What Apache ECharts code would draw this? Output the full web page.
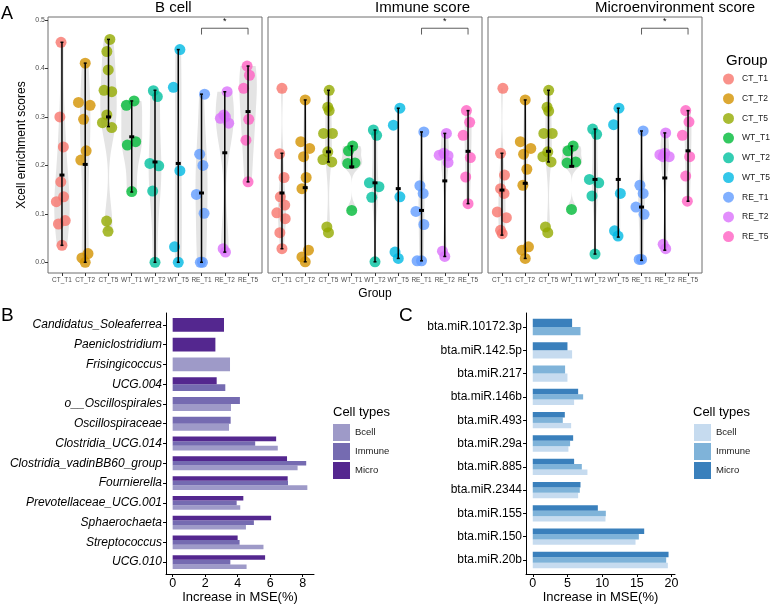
<!DOCTYPE html>
<html>
<head>
<meta charset="utf-8">
<script src="https://cdn.jsdelivr.net/npm/echarts@6/dist/echarts.min.js"></script>
<style>
  html, body { margin: 0; padding: 0; background: #fff; }
  #chart { width: 778px; height: 606px; }
</style>
</head>
<body>
<div id="chart"></div>
<script>
// ---------- panel A data ----------
const groups = ['CT_T1', 'CT_T2', 'CT_T5', 'WT_T1', 'WT_T2', 'WT_T5', 'RE_T1', 'RE_T2', 'RE_T5'];
const groupColors = ['#F8766D', '#D39200', '#93AA00', '#00BA38', '#00C19F', '#00B9E3', '#619CFF', '#DB72FB', '#FF61C3'];
const panelTitles = ['B cell', 'Immune score', 'Microenvironment score'];
const yTicksA = [0, 0.1, 0.2, 0.3, 0.4, 0.5];

// points per group: [horizontal jitter (category units), score]
const bcellPoints = [
  [[-0.04, .454], [-0.09, .300], [0.06, .238], [-0.05, .166], [0.07, .135], [-0.24, .125], [0.14, .086], [-0.15, .079], [0, .035]],
  [[0, .411], [-0.29, .330], [0.21, .324], [-0.07, .295], [0.04, .230], [-0.19, .211], [0.12, .018], [-0.14, .009], [0, .0]],
  [[0.06, .460], [-0.07, .435], [-0.01, .397], [-0.19, .355], [0.14, .352], [-0.07, .304], [-0.26, .288], [0.14, .278], [-0.08, .085], [-0.02, .064]],
  [[-0.23, .324], [0.1, .333], [-0.19, .242], [0.17, .249], [0, .146]],
  [[-0.07, .354], [0.1, .342], [-0.22, .204], [0.16, .199], [-0.1, .147], [0, .0]],
  [[0.07, .439], [-0.21, .361], [0.07, .189], [-0.16, .032], [0, .0]],
  [[0.13, .347], [-0.08, .223], [0.06, .200], [-0.22, .140], [0.11, .101], [-0.05, .0], [0.04, .0]],
  [[0.1, .352], [-0.19, .297], [-0.04, .304], [0.17, .287], [0.03, .300], [-0.07, .028], [0.03, .021]],
  [[-0.04, .405], [0.06, .386], [-0.19, .359], [0.03, .295], [-0.09, .252], [0, .166]]
];
const bcellMean = [.180, .202, .300, .259, .207, .204, .143, .226, .311];
const bcellLow = [.035, .000, .280, .145, .000, .000, .000, .021, .166];
const bcellHigh = [.454, .411, .460, .333, .355, .439, .347, .352, .405];

const immunePoints = [
  [[0, .359], [-0.1, .224], [0.09, .175], [-0.07, .135], [0.12, .118], [-0.22, .102], [0.14, .090], [-0.09, .061], [0, .028]],
  [[0, .335], [-0.19, .249], [0.19, .235], [-0.07, .218], [0.04, .175], [-0.14, .152], [0.14, .025], [-0.14, .011], [0, .001]],
  [[0.03, .355], [-0.03, .320], [0.03, .313], [-0.21, .266], [0.17, .266], [-0.03, .228], [-0.24, .212], [0.14, .207], [-0.07, .073], [0, .061]],
  [[0.04, .240], [-0.14, .230], [0.14, .205], [-0.17, .204], [0, .107]],
  [[-0.07, .273], [0.07, .262], [-0.24, .164], [0.17, .156], [-0.14, .134], [0, .001]],
  [[0.07, .318], [-0.21, .283], [0.07, .135], [-0.14, .021], [0, .008]],
  [[0.1, .269], [-0.07, .158], [0.07, .142], [-0.24, .105], [0.1, .078], [-0.19, .003], [0, .003]],
  [[0.07, .266], [-0.24, .221], [-0.04, .225], [0.14, .220], [0.14, .206], [-0.1, .023], [0, .012]],
  [[-0.07, .313], [0.07, .289], [-0.21, .262], [0.1, .216], [-0.1, .176], [0, .121]]
];
const immuneMean = [.143, .154, .228, .197, .164, .152, .107, .168, .229];
const immuneLow = [.028, .001, .207, .195, .001, .008, .003, .012, .121];
const immuneHigh = [.225, .335, .355, .240, .273, .318, .269, .266, .313];

const microPoints = [
  [[0.04, .359], [-0.06, .225], [0.11, .180], [-0.06, .152], [0.09, .142], [-0.2, .104], [0.19, .092], [-0.06, .066], [0.01, .059]],
  [[0, .335], [-0.21, .249], [0.24, .235], [-0.07, .223], [0.07, .192], [-0.1, .159], [0.14, .032], [-0.14, .025], [0, .008]],
  [[0.01, .355], [-0.06, .320], [0.01, .312], [-0.2, .266], [0.16, .266], [-0.03, .228], [-0.24, .218], [0.11, .207], [-0.13, .073], [-0.03, .061]],
  [[0.06, .240], [-0.16, .230], [0.17, .207], [-0.2, .205], [-0.01, .109]],
  [[-0.1, .275], [0.07, .264], [-0.24, .171], [0.16, .164], [-0.13, .137], [0, .017]],
  [[0.03, .318], [-0.2, .284], [0.09, .142], [-0.16, .065], [-0.01, .054]],
  [[0.07, .271], [-0.07, .159], [0.07, .142], [-0.24, .114], [0.11, .099], [-0.1, .006], [0, .006]],
  [[0.04, .267], [-0.21, .222], [0, .225], [0.19, .218], [-0.07, .218], [-0.07, .037], [0.04, .028]],
  [[-0.1, .313], [0.04, .290], [-0.24, .262], [0.07, .218], [-0.1, .178], [-0.03, .126]]
];
const microMean = [.149, .163, .229, .198, .171, .171, .114, .174, .230];
const microLow = [.056, .008, .207, .198, .017, .052, .004, .025, .126];
const microHigh = [.225, .335, .355, .240, .275, .318, .271, .267, .313];

const sigPair = [6, 8];   // RE_T1 vs RE_T5
const sigY = 0.483;

// ---------- panel B data ----------
const bGenera = ['Candidatus_Soleaferrea', 'Paeniclostridium', 'Frisingicoccus', 'UCG.004', 'o__Oscillospirales',
  'Oscillospiraceae', 'Clostridia_UCG.014', 'Clostridia_vadinBB60_group', 'Fournierella',
  'Prevotellaceae_UCG.001', 'Sphaerochaeta', 'Streptococcus', 'UCG.010'];
const bBcell = [null, null, 3.53, null, 3.59, 3.47, 6.47, 7.69, 8.29, 4.16, 4.51, 5.59, 4.55];
const bImmune = [null, null, null, 3.24, 4.14, 3.57, 5.08, 8.22, 7.10, 3.94, 5.00, 4.12, 3.55];
const bMicro = [3.16, 2.63, null, 2.71, null, null, 6.37, 7.04, 7.08, 4.35, 6.06, 4.00, 5.69];
const bTicks = [0, 2, 4, 6, 8];

// ---------- panel C data ----------
const cMirnas = ['bta.miR.10172.3p', 'bta.miR.142.5p', 'bta.miR.217', 'bta.miR.146b', 'bta.miR.493', 'bta.miR.29a',
  'bta.miR.885', 'bta.miR.2344', 'bta.miR.155', 'bta.miR.150', 'bta.miR.20b'];
const cBcell = [null, 5.67, 5.00, 5.96, 5.53, 5.14, 7.88, 6.54, 10.48, 14.81, 19.47];
const cImmune = [6.88, null, 4.66, 7.26, 4.33, 5.38, 7.07, 6.78, 10.53, 15.29, 19.23];
const cMicro = [5.67, 5.00, null, 6.54, 4.62, 5.82, 5.96, 6.88, 9.38, 16.06, 19.57];
const cTicks = [0, 5, 10, 15, 20];

const cellTypes = ['Bcell', 'Immune', 'Micro'];
const purpleColors = ['#9E9AC8', '#756BB1', '#54278F'];
const blueColors = ['#C6DBEF', '#7FB3D9', '#3A80BC'];

const FONT = "'Liberation Sans', Arial, sans-serif";

// ---------- helpers ----------
function quantile7(sorted, p) {
  const h = (sorted.length - 1) * p, lo = Math.floor(h);
  return sorted[lo] + (h - lo) * ((sorted[Math.min(lo + 1, sorted.length - 1)]) - sorted[lo]);
}
function bwNrd0(v) {
  const n = v.length, m = v.reduce((a, b) => a + b, 0) / n;
  const sd = Math.sqrt(v.reduce((a, b) => a + (b - m) * (b - m), 0) / (n - 1));
  const s = [...v].sort((a, b) => a - b);
  const iqr = quantile7(s, 0.75) - quantile7(s, 0.25);
  let lo = Math.min(sd, iqr / 1.34);
  if (!(lo > 0)) lo = sd || 0.01;
  return 0.9 * lo * Math.pow(n, -0.2);
}
// violin outline for each group: density evaluated between the group's min and max
function violinProfiles(points) {
  const profiles = points.map(pts => {
    const ys = pts.map(p => p[1]);
    const h = bwNrd0(ys), lo = Math.min(...ys), hi = Math.max(...ys);
    const prof = [];
    for (let k = 0; k <= 60; k++) {
      const y = lo + (hi - lo) * k / 60;
      let d = 0;
      ys.forEach(yi => { const u = (y - yi) / h; d += Math.exp(-0.5 * u * u); });
      prof.push([y, d / (ys.length * h * Math.sqrt(2 * Math.PI))]);
    }
    return prof;
  });
  const maxD = Math.max(...profiles.map(p => Math.max(...p.map(q => q[1]))));
  return profiles.map(p => p.map(q => [q[0], 0.45 * q[1] / maxD]));
}

const panelsA = [
  { pts: bcellPoints, mean: bcellMean, low: bcellLow, high: bcellHigh },
  { pts: immunePoints, mean: immuneMean, low: immuneLow, high: immuneHigh },
  { pts: microPoints, mean: microMean, low: microLow, high: microHigh }
];
const gridLeftA = [48, 268, 488];

const grids = [];
const xAxes = [];
const yAxes = [];
const series = [];
const titles = [];

panelsA.forEach((pa, pi) => {
  grids.push({ left: gridLeftA[pi], top: 17, width: 214, height: 256, show: true, borderColor: '#6e6e6e', borderWidth: 1, backgroundColor: '#fff' });
  xAxes.push({
    type: 'value', gridIndex: pi, min: -0.6, max: 8.6,
    axisLine: { show: false, onZero: false }, splitLine: { show: false },
    axisTick: { show: true, customValues: groups.map((g, i) => i), length: 3, lineStyle: { color: '#333' } },
    axisLabel: { customValues: groups.map((g, i) => i), formatter: v => groups[Math.round(v)], fontSize: 6.5, color: '#4d4d4d', margin: 4, fontFamily: FONT },
    name: pi === 1 ? 'Group' : '', nameLocation: 'middle', nameGap: 15,
    nameTextStyle: { fontSize: 12, color: '#000', fontFamily: FONT }
  });
  yAxes.push({
    type: 'value', gridIndex: pi, min: -0.0221, max: 0.5062,
    axisLine: { show: false, onZero: false }, splitLine: { show: false },
    axisTick: { show: pi === 0, customValues: yTicksA, length: 3, lineStyle: { color: '#333' } },
    axisLabel: { show: pi === 0, customValues: yTicksA, formatter: v => v.toFixed(1), fontSize: 7, color: '#4d4d4d', margin: 3, fontFamily: FONT },
    name: pi === 0 ? 'Xcell enrichment scores' : '', nameLocation: 'middle', nameGap: 20,
    nameTextStyle: { fontSize: 12, color: '#000', fontFamily: FONT }
  });

  const prof = violinProfiles(pa.pts);
  series.push({
    type: 'custom', xAxisIndex: pi, yAxisIndex: pi, silent: true, z: 1,
    data: groups.map((g, i) => [i]),
    renderItem: (params, api) => {
      const i = api.value(0);
      const p = prof[i];
      const right = p.map(q => api.coord([i + q[1], q[0]]));
      const left = p.slice().reverse().map(q => api.coord([i - q[1], q[0]]));
      return { type: 'polygon', shape: { points: right.concat(left) }, style: { fill: '#e4e4e4' } };
    }
  });

  pa.pts.forEach((pts, gi) => {
    series.push({
      type: 'scatter', name: groups[gi], xAxisIndex: pi, yAxisIndex: pi, z: 2,
      symbol: 'circle', symbolSize: 11,
      itemStyle: { color: groupColors[gi], opacity: 0.8 },
      data: pts.map(p => [gi + p[0], p[1]])
    });
  });

  series.push({
    type: 'custom', xAxisIndex: pi, yAxisIndex: pi, silent: true, z: 3,
    data: groups.map((g, i) => [i, pa.low[i], pa.high[i], pa.mean[i]]),
    renderItem: (params, api) => {
      const i = api.value(0);
      const lo = api.coord([i, api.value(1)]);
      const hi = api.coord([i, api.value(2)]);
      const mn = api.coord([i, api.value(3)]);
      const ls = { stroke: '#000', lineWidth: 1.5 };
      return {
        type: 'group', children: [
          { type: 'line', shape: { x1: lo[0], y1: lo[1], x2: hi[0], y2: hi[1] }, style: ls },
          { type: 'line', shape: { x1: lo[0] - 1.5, y1: lo[1], x2: lo[0] + 1.5, y2: lo[1] }, style: ls },
          { type: 'line', shape: { x1: hi[0] - 1.5, y1: hi[1], x2: hi[0] + 1.5, y2: hi[1] }, style: ls },
          { type: 'rect', shape: { x: mn[0] - 2.5, y: mn[1] - 1.5, width: 5, height: 3 }, style: { fill: '#000' } }
        ]
      };
    }
  });

  series.push({
    type: 'custom', xAxisIndex: pi, yAxisIndex: pi, silent: true, z: 4,
    data: [[sigPair[0], sigPair[1], sigY]],
    renderItem: (params, api) => {
      const a = api.coord([api.value(0), api.value(2)]);
      const b = api.coord([api.value(1), api.value(2)]);
      const drop = api.size([0, 0.013])[1];
      const mid = api.coord([(api.value(0) + api.value(1)) / 2, api.value(2)]);
      return {
        type: 'group', children: [
          { type: 'polyline', shape: { points: [[a[0], a[1] + drop], a, b, [b[0], b[1] + drop]] }, style: { stroke: '#333', lineWidth: 0.8, fill: null } },
          { type: 'text', style: { x: mid[0], y: mid[1] - 2, text: '*', fontSize: 9, fill: '#000', align: 'center', verticalAlign: 'bottom', fontFamily: FONT } }
        ]
      };
    }
  });

  titles.push({
    type: 'text', left: gridLeftA[pi] + 107, top: 0,
    style: { text: panelTitles[pi], fontSize: 15, fill: '#000', fontFamily: FONT, align: 'center' }
  });
});

// ---------- bar panels ----------
function dodgeRows(all, t) {
  // all = [bcell, immune, micro]; slot 0 = top (Micro), then Immune, then Bcell
  const rows = [];
  all[t].forEach((v, j) => {
    if (v == null) return;
    const present = [2, 1, 0].filter(k => all[k][j] != null);
    rows.push([v, j, present.indexOf(t), present.length]);
  });
  return rows;
}
function renderBar(params, api) {
  const v = api.value(0), j = api.value(1), slot = api.value(2), n = api.value(3);
  const p0 = api.coord([0, j]);
  const p1 = api.coord([v, j]);
  const total = api.size([0, 1])[1] * 0.7;
  const h = total / n;
  return {
    type: 'rect',
    shape: { x: p0[0], y: p0[1] - total / 2 + slot * h, width: p1[0] - p0[0], height: h },
    style: { fill: api.visual('color') }
  };
}

const barPanels = [
  { left: 166, width: 148, cats: bGenera, vals: [bBcell, bImmune, bMicro], colors: purpleColors, min: -0.41, max: 8.70, ticks: bTicks, italic: true },
  { left: 526, width: 149, cats: cMirnas, vals: [cBcell, cImmune, cMicro], colors: blueColors, min: -0.975, max: 20.5, ticks: cTicks, italic: false }
];

barPanels.forEach((bp, k) => {
  const gi = 3 + k;
  grids.push({ left: bp.left, top: 313, width: bp.width, height: 261 });
  xAxes.push({
    type: 'value', gridIndex: gi, min: bp.min, max: bp.max, position: 'bottom',
    axisLine: { show: true, onZero: false, lineStyle: { color: '#000', width: 1 } },
    splitLine: { show: false },
    axisTick: { show: true, customValues: bp.ticks, length: 3, lineStyle: { color: '#000' } },
    axisLabel: { customValues: bp.ticks, fontSize: 12.5, color: '#000', margin: 3, fontFamily: FONT },
    name: 'Increase in MSE(%)', nameLocation: 'middle', nameGap: 17,
    nameTextStyle: { fontSize: 13, color: '#000', fontFamily: FONT }
  });
  const ci = bp.cats.map((c, i) => i);
  yAxes.push({
    type: 'value', gridIndex: gi, inverse: true, min: -0.6, max: bp.cats.length - 0.4, position: 'left',
    axisLine: { show: true, onZero: false, lineStyle: { color: '#000', width: 1 } },
    splitLine: { show: false },
    axisTick: { show: true, customValues: ci, length: 3, lineStyle: { color: '#000' } },
    axisLabel: {
      customValues: ci, formatter: v => bp.cats[Math.round(v)], fontSize: 12, color: '#000', margin: 4,
      fontStyle: bp.italic ? 'italic' : 'normal', fontFamily: FONT
    }
  });
  cellTypes.forEach((ct, t) => {
    series.push({
      type: 'custom', name: ct, xAxisIndex: gi, yAxisIndex: gi,
      itemStyle: { color: bp.colors[t] },
      data: dodgeRows(bp.vals, t),
      renderItem: renderBar
    });
  });
});

const graphics = titles.concat([
  { type: 'text', left: 1, top: 5, style: { text: 'A', fontSize: 18, fill: '#000', fontFamily: FONT } },
  { type: 'text', left: 1, top: 306, style: { text: 'B', fontSize: 19, fill: '#000', fontFamily: FONT } },
  { type: 'text', left: 399, top: 306, style: { text: 'C', fontSize: 19, fill: '#000', fontFamily: FONT } },
  { type: 'text', left: 726, top: 53, style: { text: 'Group', fontSize: 15, fill: '#000', fontFamily: FONT } },
  { type: 'text', left: 333, top: 406, style: { text: 'Cell types', fontSize: 13, fill: '#000', fontFamily: FONT } },
  { type: 'text', left: 693, top: 406, style: { text: 'Cell types', fontSize: 13, fill: '#000', fontFamily: FONT } }
]);

const chart = echarts.init(document.getElementById('chart'), null, { renderer: 'canvas' });
chart.setOption({
  animation: false,
  backgroundColor: '#fff',
  grid: grids,
  xAxis: xAxes,
  yAxis: yAxes,
  series: series,
  graphic: graphics,
  legend: [
    {
      data: groups, orient: 'vertical', left: 723, top: 73.5,
      icon: 'circle', itemWidth: 17, itemHeight: 11, itemGap: 8.7, padding: 0,
      textStyle: { fontSize: 8.5, color: '#1a1a1a', fontFamily: FONT }, selectedMode: false
    },
    {
      data: cellTypes.map((c, i) => ({ name: c, icon: 'rect', itemStyle: { color: purpleColors[i] } })),
      orient: 'vertical', left: 333, top: 424, itemWidth: 17, itemHeight: 17, itemGap: 2, padding: 0,
      textStyle: { fontSize: 9.5, color: '#1a1a1a', fontFamily: FONT }, selectedMode: false
    },
    {
      data: cellTypes.map((c, i) => ({ name: c, icon: 'rect', itemStyle: { color: blueColors[i] } })),
      orient: 'vertical', left: 694, top: 424, itemWidth: 17, itemHeight: 17, itemGap: 2, padding: 0,
      textStyle: { fontSize: 9.5, color: '#1a1a1a', fontFamily: FONT }, selectedMode: false
    }
  ]
});
window.addEventListener('resize', () => chart.resize());
</script>
</body>
</html>
